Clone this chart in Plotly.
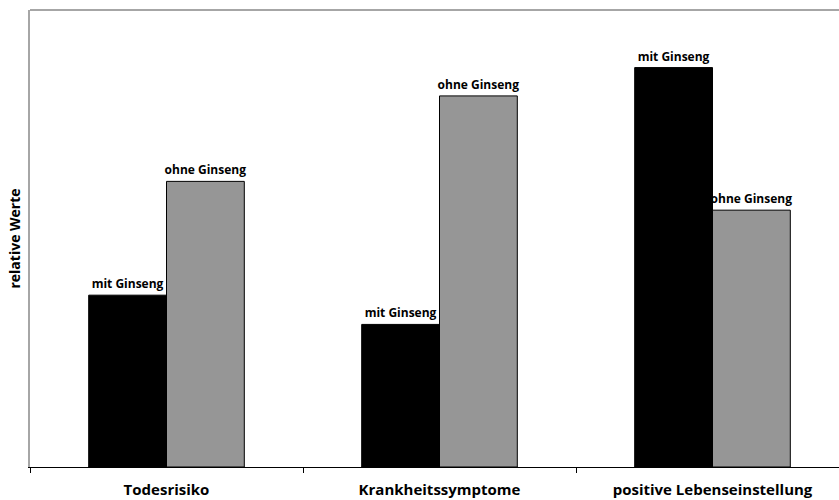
import plotly.graph_objects as go

# Categories and relative values for each group
categories = ["Todesrisiko", "Krankheitssymptome", "positive Lebenseinstellung"]
mit_ginseng = [37.6, 31.2, 87.4]
ohne_ginseng = [62.5, 81.2, 56.2]
series_names = ["mit Ginseng", "ohne Ginseng"]
y_title = "relative Werte"

x_pos = list(range(len(categories)))
FONT = "Open Sans"

fig = go.Figure()
for name, vals, color in [
    (series_names[0], mit_ginseng, "#000000"),
    (series_names[1], ohne_ginseng, "#969696"),
]:
    fig.add_trace(go.Bar(
        x=x_pos, y=vals, name=name,
        marker=dict(color=color, line=dict(color="#000000", width=1)),
        text=[name] * len(vals),
        texttemplate="%{text}",
        textposition="outside",
        textangle=0,
        constraintext="none",
        cliponaxis=False,
        outsidetextfont=dict(family=FONT, size=12, color="#000000", weight="bold"),
        hoverinfo="skip",
    ))

fig.update_layout(
    width=839, height=500,
    margin=dict(l=30, r=0, t=10, b=33),
    paper_bgcolor="white", plot_bgcolor="white",
    barmode="group", bargap=0.43, bargroupgap=0,
    showlegend=False,
    font=dict(family=FONT, color="#000000"),
    xaxis=dict(
        range=[-0.5, -0.5 + 809 / 273],
        tickmode="array", tickvals=x_pos, ticktext=categories,
        ticks="", showgrid=False, zeroline=False,
        showline=True, linecolor="#000000", linewidth=1,
        tickfont=dict(family=FONT, size=15, color="#000000", weight="bold"),
        ticklabelstandoff=9,
        minor=dict(tickmode="array", tickvals=[-0.5, 0.5, 1.5, 2.5],
                   ticks="outside", ticklen=5, tickcolor="#000000", tickwidth=1,
                   showgrid=False),
        fixedrange=True,
    ),
    yaxis=dict(
        range=[0, 100], showticklabels=False, ticks="", showgrid=False,
        zeroline=False, showline=True, linecolor="#a6a6a6", linewidth=2,
        title=dict(text=y_title, standoff=4,
                   font=dict(family=FONT, size=14, color="#000000", weight="bold")),
        fixedrange=True,
    ),
    shapes=[dict(type="line", xref="paper", yref="paper", x0=0, x1=1, y0=1, y1=1,
                 line=dict(color="#a6a6a6", width=2))],
)

fig.write_html("out.html")
